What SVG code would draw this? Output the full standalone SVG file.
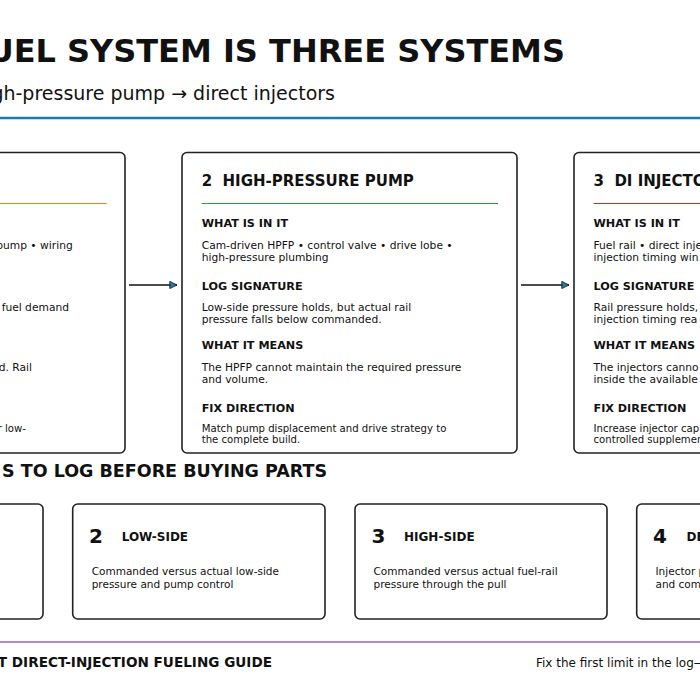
<svg xmlns="http://www.w3.org/2000/svg" width="700" height="700" viewBox="0 0 700 700">
<style>
text{font-family:"DejaVu Sans",sans-serif;fill:#111}
.title{font-size:32px;font-weight:bold}
.sub{font-size:19px}
.card{fill:#fff;stroke:#222;stroke-width:1.6}
.ct{font-size:15px;font-weight:bold}
.h{font-size:11.2px;font-weight:bold}
.b{font-size:10.7px}
.f{font-size:10.15px}
.sec{font-size:17.5px;font-weight:bold}
.num{font-size:20px;font-weight:bold}
.lab{font-size:12px;font-weight:bold}
.bb{font-size:10.5px}
.conn{stroke:#111;stroke-width:1.4;fill:none}
.foot{font-size:13.6px;font-weight:bold}
.foot2{font-size:12px}
</style>
<defs>
<marker id="ah" viewBox="0 0 10 10" refX="9.5" refY="5" markerWidth="8" markerHeight="8" markerUnits="userSpaceOnUse" orient="auto">
<path d="M0.5,0.5 L9.5,5 L0.5,9.5 Z" fill="#1f77b4" stroke="#111" stroke-width="1"/>
</marker>
</defs>
<rect width="700" height="700" fill="#fff"/>
<g id="header">
<text class="title" x="565" y="62" text-anchor="end">UEL SYSTEM IS THREE SYSTEMS</text>
<text class="sub" x="335" y="100" text-anchor="end">gh-pressure pump → direct injectors</text>
<line x1="0" y1="118" x2="700" y2="118" stroke="#1f77b4" stroke-width="2.5"/>
</g>
<g id="card1">
<rect class="card" x="-210" y="152.5" width="335" height="300.5" rx="5"/>
<line x1="-190" y1="203.5" x2="106.7" y2="203.5" stroke="#ff7f0e" stroke-width="1"/>
<text class="b" x="72.7" y="249" text-anchor="end">pump • wiring</text>
<text class="b" x="69" y="311" text-anchor="end">fuel demand</text>
<text class="b" x="32" y="371" text-anchor="end">d. Rail</text>
<text class="f" x="26" y="432" text-anchor="end">r low-</text>
</g>
<g id="card2">
<rect class="card" x="182" y="152.5" width="335" height="300.5" rx="5"/>
<text class="ct" x="201.7" y="186">2&#160; HIGH-PRESSURE PUMP</text>
<line x1="201.7" y1="203.5" x2="498" y2="203.5" stroke="#2ca02c" stroke-width="1"/>
<text class="h" x="201.7" y="227">WHAT IS IN IT</text>
<text class="b" x="201.7" y="249">Cam-driven HPFP • control valve • drive lobe •</text>
<text class="b" x="201.7" y="261">high-pressure plumbing</text>
<text class="h" x="201.7" y="290">LOG SIGNATURE</text>
<text class="b" x="201.7" y="311">Low-side pressure holds, but actual rail</text>
<text class="b" x="201.7" y="323">pressure falls below commanded.</text>
<text class="h" x="201.7" y="349">WHAT IT MEANS</text>
<text class="b" x="201.7" y="371">The HPFP cannot maintain the required pressure</text>
<text class="b" x="201.7" y="383">and volume.</text>
<text class="h" x="201.7" y="412">FIX DIRECTION</text>
<text class="f" x="201.7" y="432">Match pump displacement and drive strategy to</text>
<text class="f" x="201.7" y="443">the complete build.</text>
</g>
<g id="card3">
<rect class="card" x="574" y="152.5" width="335" height="300.5" rx="5"/>
<text class="ct" x="593.5" y="186">3&#160; DI INJECTO</text>
<line x1="593.5" y1="203.5" x2="890" y2="203.5" stroke="#d62728" stroke-width="1"/>
<text class="h" x="593.5" y="227">WHAT IS IN IT</text>
<text class="b" x="593.5" y="249">Fuel rail • direct inje</text>
<text class="b" x="593.5" y="261">injection timing win</text>
<text class="h" x="593.5" y="290">LOG SIGNATURE</text>
<text class="b" x="593.5" y="311">Rail pressure holds,</text>
<text class="b" x="593.5" y="323">injection timing rea</text>
<text class="h" x="593.5" y="349">WHAT IT MEANS</text>
<text class="b" x="593.5" y="371">The injectors canno</text>
<text class="b" x="593.5" y="383">inside the available</text>
<text class="h" x="593.5" y="412">FIX DIRECTION</text>
<text class="f" x="593.5" y="432">Increase injector cap</text>
<text class="f" x="593.5" y="443">controlled supplemen</text>
</g>
<g id="connectors">
<line class="conn" x1="129" y1="285" x2="177" y2="285" marker-end="url(#ah)"/>
<line class="conn" x1="521" y1="285" x2="569" y2="285" marker-end="url(#ah)"/>
</g>
<g id="section">
<text class="sec" x="327" y="477" text-anchor="end">S TO LOG BEFORE BUYING PARTS</text>
</g>
<g id="log1">
<rect class="card" x="-209" y="504" width="252" height="115" rx="5"/>
</g>
<g id="log2">
<rect class="card" x="72.7" y="504" width="252.3" height="115" rx="5"/>
<text class="num" x="89" y="543">2</text>
<text class="lab" x="121.7" y="541">LOW-SIDE</text>
<text class="bb" x="91.7" y="575">Commanded versus actual low-side</text>
<text class="bb" x="91.7" y="587.7">pressure and pump control</text>
</g>
<g id="log3">
<rect class="card" x="355" y="504" width="252" height="115" rx="5"/>
<text class="num" x="371.5" y="543">3</text>
<text class="lab" x="404" y="541">HIGH-SIDE</text>
<text class="bb" x="373.5" y="575">Commanded versus actual fuel-rail</text>
<text class="bb" x="373.5" y="587.7">pressure through the pull</text>
</g>
<g id="log4">
<rect class="card" x="636.7" y="504" width="252" height="115" rx="5"/>
<text class="num" x="653" y="543">4</text>
<text class="lab" x="686.5" y="541">DE</text>
<text class="bb" x="655.5" y="575">Injector p</text>
<text class="bb" x="655.5" y="587.7">and com</text>
</g>
<g id="footer">
<line x1="0" y1="642" x2="700" y2="642" stroke="#9467bd" stroke-width="1.5"/>
<text class="foot" x="272" y="667" text-anchor="end">T DIRECT-INJECTION FUELING GUIDE</text>
<text class="foot2" x="536" y="667">Fix the first limit in the log—</text>
</g>
</svg>
